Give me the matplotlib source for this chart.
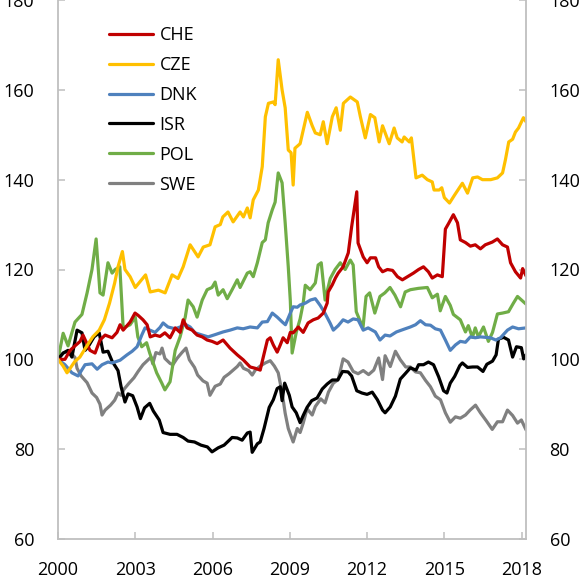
import matplotlib
matplotlib.use("Agg")
import matplotlib.pyplot as plt

plt.rcParams['font.family'] = ['Open Sans', 'DejaVu Sans']

# ---------------- data (decimal year, index 2000=100) ----------------
che_t = [0.0, 0.27, 0.47, 0.66, 0.86, 0.97, 1.24, 1.44, 1.63, 1.83, 2.1, 2.29, 2.41, 2.53, 2.8, 2.99,
         3.11, 3.3, 3.46, 3.58, 3.77, 3.96, 4.15, 4.35, 4.55, 4.74, 4.86, 5.01, 5.21, 5.4, 5.6, 5.79,
         5.98, 6.18, 6.41, 6.68, 6.96, 7.19, 7.46, 7.66, 7.85, 7.97, 8.13, 8.24, 8.36, 8.51, 8.63, 8.74,
         8.9, 9.02, 9.13, 9.33, 9.52, 9.71, 9.91, 10.1, 10.3, 10.45, 10.49, 10.65, 10.77, 10.88, 11.07,
         11.27, 11.4, 11.6, 11.65, 11.85, 12.0, 12.13, 12.33, 12.45, 12.6, 12.79, 12.99, 13.18, 13.37,
         13.57, 13.8, 14.0, 14.19, 14.38, 14.53, 14.73, 14.92, 15.04, 15.16, 15.35, 15.51, 15.62, 15.82,
         16.01, 16.2, 16.4, 16.59, 16.86, 17.06, 17.26, 17.45, 17.57, 17.76, 17.96, 18.04, 18.17]
che_v = [100, 100, 102, 103, 104, 105.4, 102, 101.4, 104.3, 105.4, 104.8, 106, 107.7, 106.5, 108.3, 110.3,
         109.8, 108.8, 107.7, 105, 105.4, 105.1, 105.9, 104.8, 107, 106, 108.8, 107, 106.5, 105.4, 105, 104.3,
         104, 103.5, 104.3, 102.5, 101, 99.9, 98.3, 98, 97.6, 100.5, 104.3, 104.8, 103.2, 101.6, 103.2, 104.8,
         103.7, 106, 105.9, 107.2, 106, 108.1, 108.8, 109.2, 110.3, 112.5, 115, 116.6, 118.1, 119.2, 120.6,
         123.7, 129.5, 137.3, 125.9, 122.8, 121.5, 122.6, 122.6, 120.6, 119.5, 120, 119.8, 118.4, 117.7,
         118.4, 119.2, 120, 120.6, 119.5, 118.1, 118.8, 118.4, 129, 130.2, 132.2, 130.4, 126.6, 126,
         125.2, 125.5, 124.6, 125.5, 126.1, 126.8, 125.5, 125, 121.5, 119.5, 118.1, 120.2, 118.6]

cze_t = [0.0, 0.2, 0.35, 0.65, 0.85, 1.1, 1.35, 1.6, 1.8, 2.0, 2.2, 2.33, 2.5, 2.6, 2.8, 3.0, 3.4, 3.58,
         3.9, 4.16, 4.43, 4.66, 4.86, 5.13, 5.44, 5.64, 5.9, 6.1, 6.3, 6.4, 6.6, 6.8, 7.07, 7.2, 7.35, 7.46,
         7.58, 7.78, 7.93, 8.05, 8.17, 8.36, 8.43, 8.55, 8.7, 8.82, 8.94, 9.05, 9.13, 9.2, 9.4, 9.6, 9.68,
         9.87, 9.99, 10.18, 10.3, 10.45, 10.65, 10.8, 10.96, 11.08, 11.35, 11.62, 11.74, 11.93, 12.13, 12.3,
         12.47, 12.6, 12.86, 13.05, 13.17, 13.36, 13.44, 13.64, 13.72, 13.9, 14.14, 14.34, 14.53, 14.6,
         14.8, 14.9, 15.0, 15.2, 15.4, 15.7, 15.9, 16.1, 16.29, 16.48, 16.8, 17.06, 17.26, 17.37, 17.5,
         17.65, 17.76, 17.88, 18.07, 18.17]
cze_v = [100, 98.5, 97, 99.5, 100.5, 102.8, 105, 106.5, 108.8, 112.5, 117, 120.6, 124, 120, 118.4, 116,
         118.8, 115, 115.4, 114.8, 118.8, 118, 120.6, 125.5, 122.8, 125, 125.5, 129.5, 130, 131.7, 132.8,
         130.6, 132.8, 131.7, 133.7, 131.5, 135.5, 137.7, 142.9, 154, 157, 157.3, 156.7, 166.7, 160, 156,
         146.6, 146, 138.8, 147, 148, 153, 155, 152, 150.4, 150, 152.9, 148, 154, 156, 151, 157, 158.4,
         157.3, 154, 149.3, 154.5, 153.8, 148.4, 152, 148, 151.5, 149.3, 148.4, 149.5, 148.4, 149.3, 140.4,
         141, 140, 139.5, 137.7, 137.7, 138.2, 136, 134.8, 136.6, 139.2, 137, 140.4, 140.6, 140, 140,
         140.4, 141.5, 144.4, 148.4, 149, 150.6, 151.5, 153.8, 152.9]

dnk_t = [0.0, 0.27, 0.54, 0.78, 1.05, 1.32, 1.52, 1.71, 1.94, 2.1, 2.41, 2.68, 2.88, 3.07, 3.26, 3.38,
         3.57, 3.77, 3.96, 4.08, 4.27, 4.55, 4.74, 4.94, 5.13, 5.32, 5.6, 5.83, 6.1, 6.41, 6.68, 6.96, 7.19,
         7.46, 7.74, 7.93, 8.13, 8.32, 8.51, 8.71, 8.83, 9.02, 9.13, 9.29, 9.4, 9.6, 9.8, 9.99, 10.18,
         10.37, 10.57, 10.69, 10.88, 11.07, 11.26, 11.46, 11.65, 11.85, 12.04, 12.32, 12.5, 12.7, 12.89,
         13.14, 13.48, 13.68, 13.88, 14.07, 14.27, 14.46, 14.65, 14.85, 15.04, 15.23, 15.43, 15.62, 15.82,
         16.01, 16.2, 16.4, 16.79, 17.0, 17.18, 17.45, 17.65, 17.88, 18.17]
dnk_v = [100, 98.8, 97, 96.3, 98.8, 99, 97.8, 98.8, 99.4, 99.2, 99.8, 101, 101.8, 102.8, 105.5, 107,
         106.5, 106, 107.1, 108.1, 107.2, 106.8, 107.2, 107.8, 107.2, 105.9, 105.4, 105, 105.5, 106.1, 106.5,
         107, 106.8, 107.2, 107, 108.3, 108.4, 110.3, 109.4, 108.3, 107.7, 110.3, 111.7, 111.6, 112.1, 112.5,
         113.2, 113.5, 112, 110.2, 108, 106.5, 107.5, 108.8, 108.3, 109, 108.8, 106.5, 107, 106.1, 104.3,
         105.4, 105.2, 106.1, 106.8, 107.2, 107.7, 108.6, 107.7, 107.6, 106.8, 106.5, 104.3, 102, 103.2,
         104, 103.8, 105, 104.8, 105, 104.8, 104.3, 104.8, 106.5, 107.2, 106.8, 107]

isr_t = [0.0, 0.2, 0.39, 0.54, 0.74, 0.93, 1.05, 1.17, 1.4, 1.6, 1.75, 1.94, 2.1, 2.33, 2.45, 2.6, 2.72,
         2.9, 3.07, 3.2, 3.36, 3.56, 3.7, 3.93, 4.08, 4.35, 4.62, 4.86, 5.05, 5.3, 5.55, 5.8, 5.98, 6.22,
         6.45, 6.76, 6.96, 7.15, 7.35, 7.46, 7.54, 7.74, 7.85, 8.0, 8.2, 8.36, 8.51, 8.63, 8.7, 8.8, 8.98,
         9.09, 9.25, 9.4, 9.52, 9.67, 9.85, 10.06, 10.26, 10.45, 10.65, 10.86, 11.05, 11.26, 11.4, 11.6,
         11.8, 12.0, 12.2, 12.4, 12.6, 12.7, 12.9, 13.1, 13.29, 13.48, 13.68, 13.9, 14.0, 14.19, 14.38,
         14.58, 14.78, 14.97, 15.1, 15.23, 15.4, 15.6, 15.7, 15.9, 16.1, 16.29, 16.5, 16.65, 16.87, 17.01,
         17.1, 17.3, 17.49, 17.65, 17.8, 17.99, 18.08, 18.17]
isr_v = [100, 101.4, 102, 100.5, 106.5, 105.9, 102, 102.8, 105, 105.9, 101.6, 101.8, 99.6, 97.5, 93.9,
         90.5, 92.3, 91.9, 89.4, 86.8, 89.2, 90.2, 88.5, 86.5, 83.7, 83.3, 83.3, 82.6, 81.8, 81.6, 80.9,
         80.5, 79.4, 80.3, 80.9, 82.6, 82.5, 82, 83.6, 83.8, 79.3, 81.2, 81.6, 84.6, 89.3, 91, 93.5, 93.9,
         90.8, 94.7, 92, 89.4, 88.1, 85.9, 87.5, 89.3, 90.8, 91.4, 93.4, 94.5, 95.4, 95.4, 97.3, 97.2, 96.3,
         93, 92.5, 92.2, 92.7, 91, 88.7, 88.1, 89.4, 91.8, 95.6, 96.8, 98.1, 97.6, 98.8, 98.8, 99.4, 98.8,
         96.1, 93, 92.5, 94.7, 96.2, 98.6, 99.2, 98.2, 98.3, 98.3, 97.3, 98.9, 99.6, 101, 104.5, 104.9,
         104.3, 100.5, 102.8, 102.6, 100.1, 101]

pol_t = [0.0, 0.2, 0.39, 0.66, 0.93, 1.13, 1.32, 1.48, 1.63, 1.75, 1.94, 2.1, 2.22, 2.4, 2.53, 2.8, 3.0,
         3.1, 3.25, 3.44, 3.56, 3.83, 4.03, 4.15, 4.35, 4.55, 4.74, 4.94, 5.05, 5.25, 5.4, 5.6, 5.79, 5.98,
         6.1, 6.22, 6.41, 6.57, 6.76, 6.96, 7.07, 7.35, 7.46, 7.58, 7.74, 7.93, 8.05, 8.16, 8.32, 8.43, 8.55,
         8.7, 8.82, 8.94, 9.02, 9.09, 9.25, 9.4, 9.52, 9.6, 9.79, 9.99, 10.1, 10.22, 10.37, 10.57, 10.76,
         10.96, 11.15, 11.35, 11.46, 11.58, 11.84, 11.96, 12.1, 12.3, 12.5, 12.69, 12.89, 13.08, 13.3,
         13.48, 13.68, 13.99, 14.34, 14.53, 14.73, 14.84, 15.04, 15.23, 15.35, 15.62, 15.82, 15.93, 16.09,
         16.2, 16.32, 16.52, 16.71, 16.87, 17.06, 17.26, 17.49, 17.68, 17.84, 18.17]
pol_v = [100, 105.8, 103, 108.3, 110, 114.8, 120, 126.8, 114.8, 114.3, 121.5, 119.2, 120, 120.6, 107,
         107.7, 109.4, 105, 102.8, 103.7, 101.4, 97, 94.7, 93.2, 95, 102, 105, 109.4, 113.2, 111.7, 109.4,
         113.2, 115.5, 116, 117.2, 114.3, 115.5, 113.5, 115.5, 117.7, 116, 119.2, 119.5, 118.4, 121.5, 126,
         126.6, 130.4, 133.3, 135, 141.5, 139.3, 130.4, 120.6, 113, 101.4, 106, 109, 112.5, 116.5, 115.5,
         117, 121, 121.5, 113.2, 118, 120, 121.5, 120, 122.1, 121, 110.6, 107, 114, 114.8, 110.3, 114,
         114.8, 116, 114.3, 111.7, 115, 115.5, 115.8, 116, 113.7, 114.5, 110.8, 114, 112, 110, 108.8,
         106.1, 107.5, 104.9, 107, 105, 107.2, 104, 106, 110.1, 110.3, 110.6, 112.5, 114, 112.3]

swe_t = [0.0, 0.2, 0.45, 0.66, 0.74, 0.9, 1.13, 1.32, 1.5, 1.63, 1.71, 1.83, 2.04, 2.2, 2.33, 2.45, 2.57,
         2.76, 2.95, 3.11, 3.3, 3.5, 3.61, 3.68, 3.8, 3.96, 4.04, 4.15, 4.35, 4.46, 4.62, 4.81, 4.97, 5.1,
         5.3, 5.42, 5.63, 5.79, 5.9, 6.1, 6.3, 6.45, 6.64, 6.96, 7.07, 7.2, 7.4, 7.54, 7.66, 7.85, 8.05,
         8.24, 8.4, 8.55, 8.7, 8.82, 8.94, 9.13, 9.29, 9.4, 9.52, 9.67, 9.87, 9.99, 10.2, 10.37, 10.5,
         10.69, 10.88, 11.07, 11.26, 11.46, 11.65, 11.85, 12.06, 12.26, 12.45, 12.6, 12.7, 12.9, 13.1,
         13.29, 13.5, 13.68, 13.88, 14.07, 14.27, 14.46, 14.65, 14.85, 15.04, 15.23, 15.43, 15.62, 15.82,
         16.0, 16.21, 16.4, 16.63, 16.86, 17.06, 17.26, 17.45, 17.65, 17.84, 17.99, 18.17]
swe_v = [100, 101.4, 101.8, 100.4, 98, 96.3, 94.8, 92.5, 91.5, 90, 87.6, 88.7, 89.8, 90.9, 92.5, 92,
         93.4, 94.7, 95.9, 97.3, 98.8, 99.9, 100.5, 99, 101.5, 101.2, 102.5, 100.2, 99.1, 98.8, 100.2,
         101.5, 102.5, 99.9, 98.2, 96.5, 95.2, 94.7, 92, 94, 94.5, 96, 96.8, 98.4, 99.2, 98, 97.5, 96.5,
         97.6, 98.5, 99.2, 99.7, 98.5, 97, 92.6, 88, 84.6, 81.6, 84.6, 83.7, 85.8, 89, 87.6, 89.5, 91.2,
         90.3, 92.7, 94.7, 95.5, 100.1, 99.4, 97.3, 96.8, 97.5, 96.6, 97.6, 100.3, 95.5, 100.8, 98.4,
         101.8, 99.9, 98.3, 98.3, 97.2, 97, 95.3, 93.9, 91.8, 91, 88.1, 86, 87.2, 86.9, 87.6, 88.7, 89.8,
         88.1, 86.3, 84.4, 86.1, 86.1, 88.7, 87.5, 85.8, 86.5, 84.3]

labels = ["CHE", "CZE", "DNK", "ISR", "POL", "SWE"]
colors = ["#C00000", "#FFC000", "#4F81BD", "#000000", "#70AD47", "#808080"]
series_t = [che_t, cze_t, dnk_t, isr_t, pol_t, swe_t]
series_v = [che_v, cze_v, dnk_v, isr_v, pol_v, swe_v]

x_ticks = [2000, 2003, 2006, 2009, 2012, 2015, 2018]
y_ticks = [60, 80, 100, 120, 140, 160, 180]

# ---------------- figure ----------------
W = H = 581
fig = plt.figure(figsize=(W / 100, H / 100), dpi=100)
ax = fig.add_axes([58 / W, 1 - 539 / H, (526 - 58) / W, 539 / H])

draw_order = [5, 4, 3, 2, 0, 1]
lines = {}
for i in draw_order:
    t = [2000 + v for v in series_t[i]]
    ln, = ax.plot(t, series_v[i], color=colors[i], lw=2.3, label=labels[i],
                  solid_joinstyle='round', solid_capstyle='round')
    lines[i] = ln

ax.set_xlim(2000, 2018.17)
ax.set_ylim(60, 180)
ax.set_xticks(x_ticks)
ax.set_yticks(y_ticks)

spine_c = "#BFBFBF"
for s in ["left", "right", "bottom"]:
    ax.spines[s].set_color(spine_c)
    ax.spines[s].set_linewidth(1.3)
ax.spines["top"].set_visible(False)

ax.tick_params(axis="both", direction="in", length=5, width=1.1, color=spine_c,
               labelsize=13, labelcolor="#000000")
ax.tick_params(axis="y", left=True, right=True, labelleft=True, labelright=True, pad=17)
ax.tick_params(axis="x", pad=16)

handles = [lines[i] for i in range(6)]
leg = ax.legend(handles, labels, loc="upper left", frameon=False, fontsize=13,
                bbox_to_anchor=(109 / W, 1 - 26 / H), bbox_transform=fig.transFigure,
                borderpad=0, borderaxespad=0, handlelength=2.45, handletextpad=0.35,
                labelspacing=0.66)

fig.savefig("out.png", dpi=100, facecolor="white")
